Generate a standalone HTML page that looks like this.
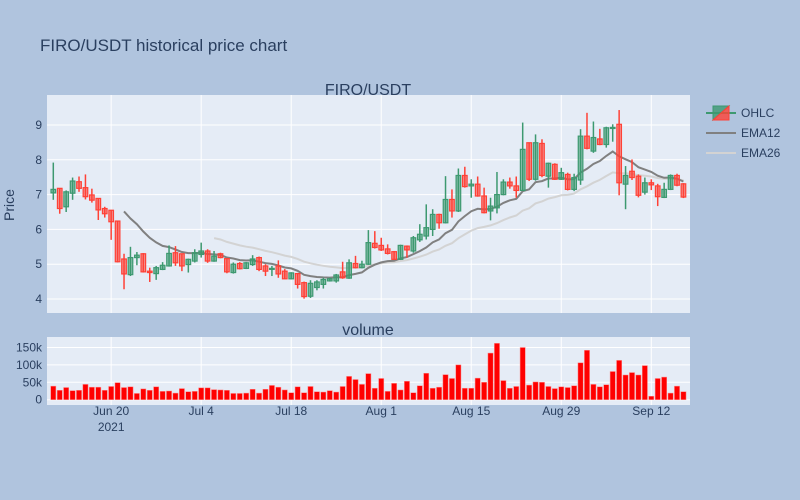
<!DOCTYPE html>
<html><head><meta charset="utf-8">
<style>
html,body{margin:0;padding:0;background:#b0c4de;}
svg{display:block;font-family:"Liberation Sans","DejaVu Sans",sans-serif;}
</style></head>
<body>
<svg id="chart" width="800" height="500" xmlns="http://www.w3.org/2000/svg">
<rect x="0" y="0" width="800" height="500" fill="#b0c4de"/>
<text x="40" y="51" font-size="17" fill="#2a3f5f">FIRO/USDT historical price chart</text>
<rect x="47" y="95" width="643" height="218" fill="#e5ecf6"/>
<rect x="47" y="337" width="643" height="68" fill="#e5ecf6"/>
<text x="368" y="95" font-size="16" fill="#2a3f5f" text-anchor="middle">FIRO/USDT</text>
<text x="368" y="335" font-size="16" fill="#2a3f5f" text-anchor="middle">volume</text>
<text x="14" y="205" font-size="14" fill="#2a3f5f" text-anchor="middle" transform="rotate(-90 14 205)">Price</text>
<g id="grid"></g><g id="marks"></g><g id="labels"></g>
<g>
 <g>
  <line x1="706" y1="113" x2="736" y2="113" stroke="#3D9970" stroke-width="2"/>
  <polygon points="713,106 729,106 713,120" fill="rgba(61,153,112,0.8)" stroke="#3D9970"/>
  <polygon points="729,106 729,120 713,120" fill="rgba(255,65,54,0.8)" stroke="#FF4136"/>
  <text x="741" y="117" font-size="12" fill="#2a3f5f">OHLC</text>
 </g>
 <g>
  <line x1="706" y1="133" x2="736" y2="133" stroke="#808080" stroke-width="2"/>
  <text x="741" y="137" font-size="12" fill="#2a3f5f">EMA12</text>
 </g>
 <g>
  <line x1="706" y1="153" x2="736" y2="153" stroke="#d3d3d3" stroke-width="2"/>
  <text x="741" y="157" font-size="12" fill="#2a3f5f">EMA26</text>
 </g>
</g>
</svg>
<script>
const opens=[7.05,7.18,6.65,7.04,7.37,7.2,6.99,6.89,6.6,6.55,6.24,5.15,4.7,5.19,5.3,4.8,4.73,4.85,4.95,5.33,5.3,4.99,5.09,5.28,5.38,5.09,5.3,5.16,4.76,5.02,4.88,4.99,5.19,4.95,4.86,4.95,4.8,4.58,4.73,4.47,4.08,4.33,4.42,4.52,4.52,4.78,4.6,5.02,4.9,5.0,5.6,5.54,5.44,5.36,5.14,5.52,5.38,5.7,5.81,6.0,6.43,6.19,6.86,6.53,7.55,7.25,7.3,6.96,6.53,6.62,7.0,7.36,7.25,7.12,8.49,7.44,8.47,7.53,7.87,7.44,7.58,7.15,7.42,8.68,8.25,8.6,8.44,8.9,9.02,7.3,7.67,7.53,7.07,7.34,7.25,6.92,7.15,7.55,7.31];
const highs=[7.92,7.18,7.12,7.49,7.52,7.58,7.17,6.9,6.65,6.56,6.24,5.3,5.5,5.35,5.32,4.9,4.95,5.06,5.54,5.52,5.3,5.16,5.43,5.62,5.43,5.38,5.33,5.16,5.05,5.06,5.06,5.26,5.22,5.0,4.95,5.11,4.86,4.77,4.75,4.5,4.54,4.54,4.61,4.61,4.72,5.07,5.14,5.24,5.1,5.98,5.95,5.76,5.57,5.38,5.56,5.54,5.81,6.15,6.72,6.58,6.45,7.53,7.15,7.75,7.8,7.44,7.52,7.2,6.91,7.65,7.44,7.49,7.52,9.07,8.5,8.73,8.59,7.92,7.9,7.77,7.63,7.6,8.88,9.35,9.1,8.89,8.95,9.02,9.43,7.82,8.01,7.58,7.49,7.44,7.31,7.34,7.58,7.6,7.33];
const lows=[6.85,6.45,6.5,6.85,7.08,6.86,6.77,6.27,6.34,5.7,5.05,4.28,4.66,4.97,4.76,4.49,4.55,4.83,4.93,4.95,4.8,4.76,5.05,5.19,5.04,5.07,5.17,4.74,4.73,4.85,4.86,4.95,4.8,4.66,4.66,4.61,4.57,4.56,4.3,4.01,4.03,4.25,4.3,4.5,4.47,4.58,4.58,4.88,4.88,4.98,5.45,5.38,5.28,5.12,5.12,5.19,5.33,5.64,5.71,5.81,6.02,6.17,6.34,6.5,7.2,6.91,6.94,6.46,6.26,6.46,6.98,7.17,6.91,7.1,7.39,7.4,7.5,7.2,7.42,7.42,7.12,7.1,7.28,8.3,8.2,8.42,8.35,8.52,6.98,6.58,7.42,6.92,7.0,7.13,6.67,6.9,7.13,7.24,6.9];
const closes=[7.15,6.6,7.08,7.39,7.18,6.94,6.84,6.56,6.45,6.22,5.07,4.72,5.19,5.26,4.78,4.76,4.9,4.97,5.31,5.04,4.95,5.14,5.33,5.38,5.09,5.23,5.19,4.78,5.0,4.87,5.04,5.15,4.85,4.8,4.88,4.72,4.58,4.75,4.42,4.07,4.45,4.49,4.56,4.58,4.69,4.61,5.04,4.9,5.0,5.62,5.48,5.41,5.31,5.14,5.54,5.41,5.76,5.86,6.05,6.43,6.19,6.86,6.53,7.55,7.23,7.3,6.96,6.48,6.67,7.0,7.36,7.25,7.12,8.3,7.44,8.49,7.55,7.9,7.44,7.63,7.15,7.49,8.68,8.33,8.64,8.44,8.92,8.93,7.34,7.55,7.49,6.98,7.34,7.28,6.94,7.15,7.55,7.27,6.93];
const volumes=[39,27,35,26,27,44,36,36,27,38,49,35,37,18,31,27,37,24,25,19,32,23,24,34,34,29,28,27,18,18,19,30,19,30,41,36,28,20,37,20,38,23,22,26,22,38,67,58,44,75,33,61,24,47,28,53,20,40,76,33,36,72,61,100,33,33,62,50,134,162,55,33,38,150,42,51,50,38,32,37,35,40,106,142,44,37,43,81,113,71,78,71,98,10,61,65,19,39,23];
const priceTicks=[4,5,6,7,8,9];
const volTicks=[0,50,100,150];
const volTickLabels=["0","50k","100k","150k"];
const xTickIdx=[9,23,37,51,65,79,93];
const xTickLabels=["Jun 20","Jul 4","Jul 18","Aug 1","Aug 15","Aug 29","Sep 12"];

const NS="http://www.w3.org/2000/svg";
const X=i=>53.3+i*6.43;
const Y=v=>299-(v-4)*34.8;
const YV=k=>399.7-k*0.348;
function mk(tag,attrs,parent){const e=document.createElementNS(NS,tag);for(const k in attrs)e.setAttribute(k,attrs[k]);parent.appendChild(e);return e;}
const grid=document.getElementById('grid'),marks=document.getElementById('marks'),labels=document.getElementById('labels');

priceTicks.forEach(v=>{
  const l=mk('line',{x1:47,x2:690,y1:Y(v),y2:Y(v),stroke:'#fff','stroke-width':1},grid);
  
  
  const t=mk('text',{x:42,y:Y(v)+4,'font-size':12,fill:'#2a3f5f','text-anchor':'end'},labels);
  t.textContent=v;
  
  
});
volTicks.forEach((v,j)=>{
  const l=mk('line',{x1:47,x2:690,y1:YV(v),y2:YV(v),stroke:'#fff','stroke-width':1},grid);
  
  
  const t=mk('text',{x:42,y:YV(v)+4,'font-size':12,fill:'#2a3f5f','text-anchor':'end'},labels);
  t.textContent=volTickLabels[j];
  
  
});
xTickIdx.forEach((i,j)=>{
  const a=mk('line',{x1:X(i),x2:X(i),y1:95,y2:313,stroke:'#fff','stroke-width':1},grid);
  
  
  const b=mk('line',{x1:X(i),x2:X(i),y1:337,y2:405,stroke:'#fff','stroke-width':1},grid);
  
  
  const t=mk('text',{x:X(i),y:415,'font-size':12,fill:'#2a3f5f','text-anchor':'middle'},labels);
  t.textContent=xTickLabels[j];
  
  
});
const yr=mk('text',{x:X(9),y:431,'font-size':12,fill:'#2a3f5f','text-anchor':'middle'},labels);
yr.textContent='2021';



function ema(n){const out=[];let s=0;for(let i=0;i<closes.length;i++){if(i<n-1){s+=closes[i];out.push(null);}else if(i===n-1){s+=closes[i];out.push(s/n);}else{const k=2/(n+1);out.push(closes[i]*k+out[i-1]*(1-k));}}return out;}
function line(vals,color,name){let d='';vals.forEach((v,i)=>{if(v==null)return;d+=(d?'L':'M')+X(i).toFixed(1)+','+Y(v).toFixed(1);});
  const p=mk('path',{d:d,fill:'none',stroke:color,'stroke-width':2},marks);
  
  }
line(ema(26),'#d3d3d3','ema26-line');
line(ema(12),'#808080','ema12-line');

opens.forEach((o,i)=>{
  const c=closes[i],up=c>=o,col=up?'#3D9970':'#FF4136',fill=up?'rgba(61,153,112,0.55)':'rgba(255,65,54,0.55)';
  const g=mk('g',{},marks);
  
  
  mk('line',{x1:X(i),x2:X(i),y1:Y(highs[i]),y2:Y(lows[i]),stroke:col,'stroke-width':1.5},g);
  const top=Y(Math.max(o,c)),h=Math.max(1,Math.abs(Y(o)-Y(c)));
  mk('rect',{x:X(i)-2.3,y:top,width:4.6,height:h,fill:fill,stroke:col,'stroke-width':1.2},g);
  const b=mk('rect',{x:X(i)-2.6,y:YV(volumes[i]),width:5.2,height:YV(0)-YV(volumes[i]),fill:'#ff0000',stroke:'#ff8a8a','stroke-width':0.5},marks);
  
  
});
</script>
</body></html>
